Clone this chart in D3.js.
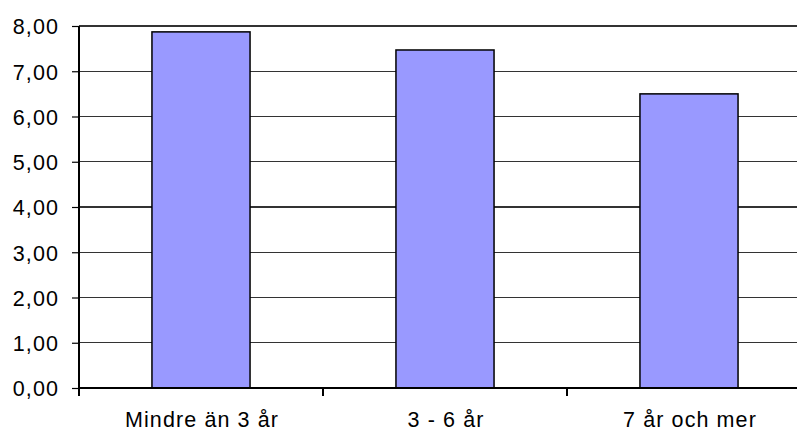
<!DOCTYPE html>
<html>
<head>
<meta charset="utf-8">
<script src="https://cdn.jsdelivr.net/npm/d3@7/dist/d3.min.js"></script>
<style>
  html, body { margin: 0; padding: 0; background: #fff; }
  svg { display: block; }
  text { font-family: "Liberation Sans", Arial, sans-serif; font-size: 21.5px; letter-spacing: 1.1px; fill: #000; }
</style>
</head>
<body>
<svg id="chart" width="797" height="432"></svg>
<script>
const categories = ["Mindre än 3 år", "3 - 6 år", "7 år och mer"];
const values = [7.87, 7.47, 6.50];
const yTicks = [0, 1, 2, 3, 4, 5, 6, 7, 8];

(function () {
const svg = d3.select("#chart");
const mLeft = 79, mRight = 811, mTop = 26, mBottom = 388;

const x = d3.scaleBand().domain(categories).range([mLeft, mRight]).padding(0);
const y = d3.scaleLinear().domain([0, 8]).range([mBottom, mTop]);
const barW = x.bandwidth() * 0.402;
const fmt = v => d3.format(".2f")(v).replace(".", ",");

// gridlines
svg.append("g").selectAll("line").data(yTicks.filter(d => d > 0)).join("line")
  .attr("x1", mLeft).attr("x2", 797)
  .attr("y1", d => y(d)).attr("y2", d => y(d))
  .attr("stroke", "#333").attr("stroke-width", 1.2).attr("shape-rendering", "crispEdges");

// bars
svg.append("g").selectAll("rect").data(values).join("rect")
  .attr("x", (d, i) => x(categories[i]) + (x.bandwidth() - barW) / 2)
  .attr("y", d => y(d))
  .attr("width", barW)
  .attr("height", d => y(0) - y(d))
  .attr("fill", "#9999ff")
  .attr("stroke", "#000").attr("stroke-width", 1.5);

// y axis
const yAxis = d3.axisLeft(y).tickValues(yTicks).tickFormat(fmt).tickSize(7).tickPadding(13);
const gy = svg.append("g").attr("transform", `translate(${mLeft},0)`).call(yAxis);
gy.select(".domain").remove();
gy.selectAll(".tick line").attr("stroke", "#000").attr("stroke-width", 1.2);
gy.selectAll(".tick text").attr("dy", "0.36em").style("font-size", "21.5px").style("font-family", "Liberation Sans, Arial, sans-serif");
svg.append("line").attr("x1", mLeft).attr("x2", mLeft).attr("y1", mTop).attr("y2", mBottom)
  .attr("stroke", "#000").attr("stroke-width", 1.2).attr("shape-rendering", "crispEdges");

// x axis
svg.append("line").attr("x1", mLeft).attr("x2", 797).attr("y1", mBottom).attr("y2", mBottom)
  .attr("stroke", "#000").attr("stroke-width", 1.5).attr("shape-rendering", "crispEdges");
svg.append("g").selectAll("line").data(categories).join("line")
  .attr("x1", d => x(d)).attr("x2", d => x(d))
  .attr("y1", mBottom).attr("y2", mBottom + 8)
  .attr("stroke", "#000").attr("stroke-width", 1.2).attr("shape-rendering", "crispEdges");
svg.append("g").selectAll("text").data(categories).join("text")
  .attr("x", d => x(d) + x.bandwidth() / 2 + 1)
  .attr("y", 427)
  .attr("text-anchor", "middle")
  .text(d => d);
})();
</script>
</body>
</html>
